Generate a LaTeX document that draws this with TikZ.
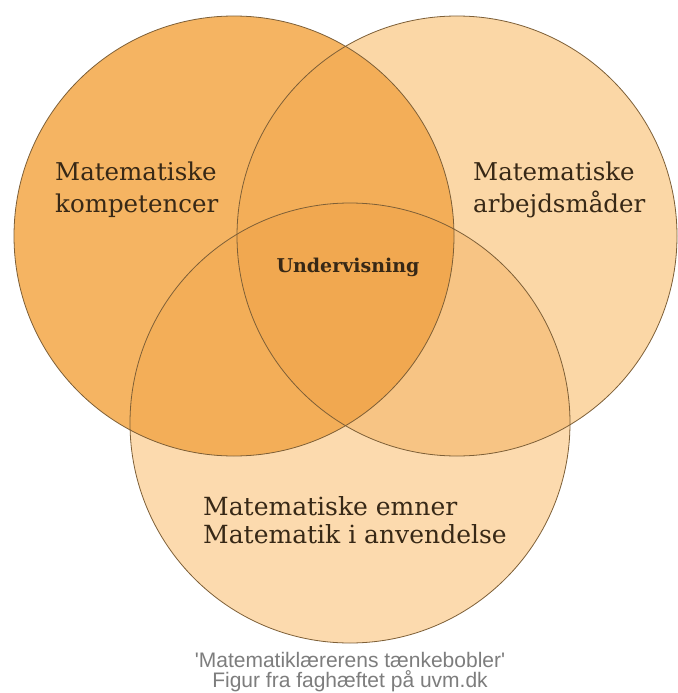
\documentclass[tikz,border=0pt]{standalone}
\usepackage{fontspec}
\setmainfont{DejaVu Serif}
\newfontfamily\capfont{Liberation Sans}
\definecolor{colL}{RGB}{245,180,98}
\definecolor{colR}{RGB}{251,215,166}
\definecolor{colB}{RGB}{252,218,174}
\definecolor{colLR}{RGB}{243,174,88}
\definecolor{colLB}{RGB}{243,174,88}
\definecolor{colRB}{RGB}{247,196,132}
\definecolor{colLRB}{RGB}{241,168,80}
\definecolor{edgecol}{RGB}{125,95,55}
\definecolor{txtcol}{RGB}{55,40,22}
\definecolor{capcol}{RGB}{125,125,125}
\tikzset{
  ring/.style={draw=edgecol, line width=0.8pt},
  lbl/.style={inner sep=0pt, text=txtcol, font=\fontsize{24.5}{30}\selectfont, anchor=base west},
  lblbig/.style={inner sep=0pt, text=txtcol, font=\fontsize{25}{30}\selectfont, anchor=base west},
  mid/.style={inner sep=0pt, text=txtcol, font=\bfseries\fontsize{19}{23}\selectfont, anchor=base},
  captext/.style={inner sep=0pt, text=capcol, font=\capfont\fontsize{21}{24}\selectfont, anchor=base}
}
\begin{document}
\begin{tikzpicture}[x=1pt,y=-1pt]
\useasboundingbox (0,0) rectangle (677,693);
\fill[white] (0,0) rectangle (677,693);
\coordinate (cl) at (234,236);
\coordinate (cr) at (457,236);
\coordinate (cb) at (350,423);
% base fills
\fill[colR] (cr) circle[radius=220];
\fill[colB] (cb) circle[radius=220];
\begin{scope}
  \clip (cr) circle[radius=220];
  \fill[colRB] (cb) circle[radius=220];
\end{scope}
\begin{scope}
  \clip (cl) circle[radius=220];
  \fill[colL] (cl) circle[radius=220];
  \fill[colLR] (cr) circle[radius=220];
  \fill[colLB] (cb) circle[radius=220];
  \clip (cr) circle[radius=220];
  \fill[colLRB] (cb) circle[radius=220];
\end{scope}
% outlines
\draw[ring] (cl) circle[radius=220];
\draw[ring] (cr) circle[radius=220];
\draw[ring] (cb) circle[radius=220];
% labels
\node[lbl] (k1) at (55,180) {Matematiske};
\node[lbl] (k2) at (55,212) {kompetencer};
\node[lbl] (a1) at (473,180) {Matematiske};
\node[lbl] (a2) at (473,212) {arbejdsmåder};
\node[mid] (u) at (348,272) {Undervisning};
\node[lblbig] (e1) at (203,515) {Matematiske emner};
\node[lblbig] (e2) at (203,543) {Matematik i anvendelse};
\node[captext] (c1) at (350,667) {'Matematiklærerens tænkebobler'};
\node[captext] (c2) at (350,687) {Figur fra faghæftet på uvm.dk};
\end{tikzpicture}
\end{document}
